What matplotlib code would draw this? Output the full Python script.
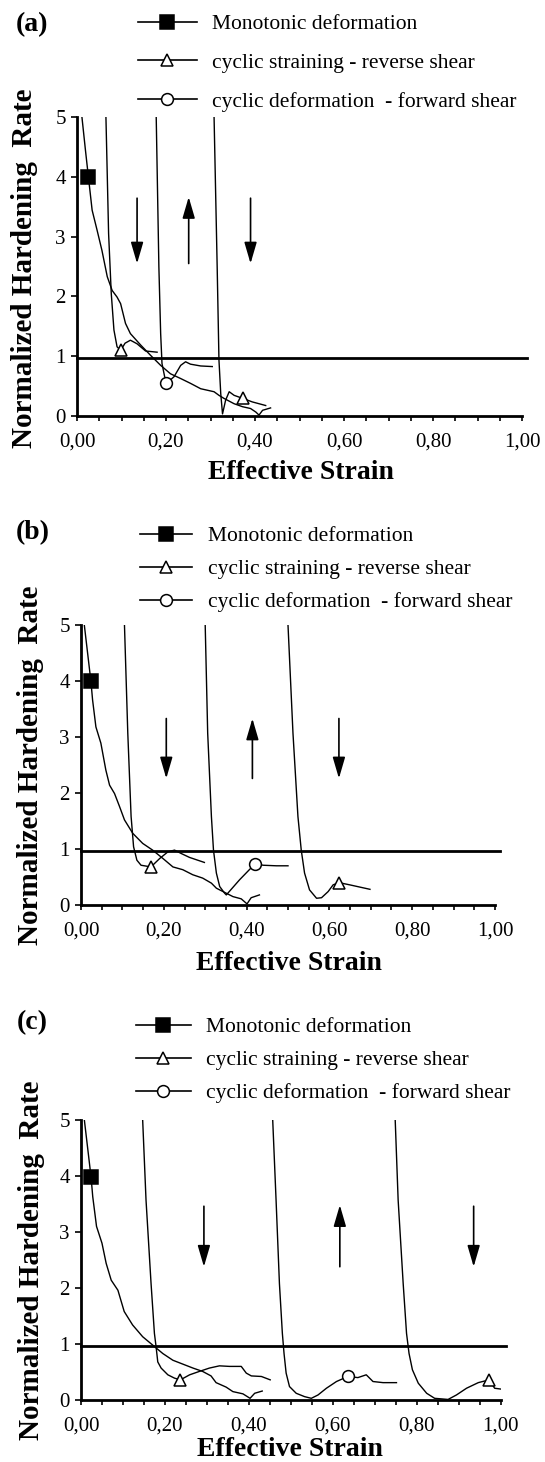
import matplotlib
matplotlib.use('Agg')
import matplotlib.pyplot as plt
from matplotlib.lines import Line2D
from matplotlib.ticker import MultipleLocator, FuncFormatter

plt.rcParams['font.family'] = ['Liberation Serif', 'DejaVu Serif']

# Data (effective strain, normalized hardening rate)

# --- panel (a) ---
a_mono_x = [0.011, 0.019, 0.026, 0.034, 0.045, 0.056, 0.068, 0.079, 0.090, 0.098, 0.109, 0.120,
            0.143, 0.165, 0.188, 0.210, 0.233, 0.255, 0.278, 0.308, 0.319, 0.330, 0.353, 0.372,
            0.390, 0.402, 0.409, 0.417, 0.435]
a_mono_y = [5.00, 4.44, 3.97, 3.44, 3.11, 2.77, 2.33, 2.10, 1.99, 1.88, 1.55, 1.38,
            1.19, 1.02, 0.85, 0.71, 0.63, 0.55, 0.46, 0.41, 0.35, 0.30, 0.21, 0.16,
            0.13, 0.07, 0.02, 0.10, 0.14]
a_rev1_x = [0.065, 0.071, 0.077, 0.083, 0.090, 0.098, 0.108, 0.120, 0.135, 0.154, 0.180]
a_rev1_y = [5.00, 3.05, 2.05, 1.44, 1.16, 1.10, 1.22, 1.27, 1.21, 1.09, 1.07]
a_fwd_x = [0.178, 0.184, 0.188, 0.191, 0.197, 0.201, 0.218, 0.233, 0.244, 0.255, 0.278, 0.304]
a_fwd_y = [5.00, 2.49, 1.38, 0.88, 0.66, 0.55, 0.66, 0.85, 0.91, 0.87, 0.84, 0.83]
a_rev2_x = [0.308, 0.315, 0.319, 0.323, 0.327, 0.334, 0.342, 0.353, 0.372, 0.394, 0.424]
a_rev2_y = [5.00, 2.49, 0.94, 0.38, 0.04, 0.27, 0.41, 0.35, 0.30, 0.24, 0.18]
a_marks_x = [0.025, 0.098, 0.201, 0.372]
a_marks_y = [4.00, 1.10, 0.55, 0.30]
a_arrow_x = [0.135, 0.251, 0.390]
a_arrow_from = [3.64, 2.55, 3.64]
a_arrow_to = [2.55, 3.66, 2.55]

# --- panel (b) ---
b_mono_x = [0.008, 0.024, 0.028, 0.036, 0.048, 0.060, 0.069, 0.081, 0.093, 0.105, 0.125, 0.149,
            0.173, 0.198, 0.222, 0.246, 0.270, 0.294, 0.315, 0.327, 0.351, 0.367, 0.387, 0.401,
            0.411, 0.431]
b_mono_y = [5.00, 3.99, 3.66, 3.18, 2.89, 2.41, 2.14, 1.99, 1.76, 1.52, 1.28, 1.10,
            0.98, 0.83, 0.68, 0.63, 0.54, 0.48, 0.39, 0.30, 0.21, 0.15, 0.11, 0.02,
            0.13, 0.18]
b_rev1_x = [0.105, 0.113, 0.121, 0.127, 0.135, 0.145, 0.169, 0.190, 0.210, 0.226, 0.242, 0.262, 0.298]
b_rev1_y = [5.00, 3.07, 1.58, 1.04, 0.80, 0.71, 0.68, 0.83, 0.95, 0.98, 0.92, 0.85, 0.76]
b_fwd_x = [0.300, 0.306, 0.315, 0.320, 0.327, 0.335, 0.347, 0.351, 0.383, 0.421, 0.440, 0.472, 0.500]
b_fwd_y = [5.00, 3.07, 1.58, 0.98, 0.57, 0.33, 0.21, 0.18, 0.45, 0.74, 0.71, 0.70, 0.70]
b_rev2_x = [0.500, 0.512, 0.524, 0.532, 0.540, 0.552, 0.569, 0.581, 0.597, 0.609, 0.623, 0.649, 0.698]
b_rev2_y = [5.00, 3.07, 1.58, 0.98, 0.57, 0.27, 0.12, 0.13, 0.24, 0.36, 0.40, 0.36, 0.28]
b_marks_x = [0.024, 0.169, 0.421, 0.623]
b_marks_y = [4.00, 0.68, 0.74, 0.40]
b_arrow_x = [0.206, 0.414, 0.623]
b_arrow_from = [3.33, 2.26, 3.33]
b_arrow_to = [2.26, 3.33, 2.26]

# --- panel (c) ---
c_mono_x = [0.008, 0.024, 0.028, 0.037, 0.050, 0.060, 0.072, 0.088, 0.103, 0.123, 0.147, 0.171,
            0.195, 0.219, 0.243, 0.267, 0.290, 0.310, 0.322, 0.346, 0.362, 0.386, 0.403, 0.414, 0.432]
c_mono_y = [5.00, 3.98, 3.63, 3.10, 2.80, 2.44, 2.14, 1.96, 1.58, 1.34, 1.13, 0.98,
            0.83, 0.71, 0.64, 0.57, 0.51, 0.43, 0.31, 0.23, 0.15, 0.11, 0.03, 0.12, 0.16]
c_rev1_x = [0.147, 0.155, 0.167, 0.175, 0.179, 0.183, 0.191, 0.207, 0.223, 0.237, 0.259, 0.282,
            0.306, 0.330, 0.354, 0.382, 0.394, 0.406, 0.430, 0.451]
c_rev1_y = [5.00, 3.57, 2.08, 1.19, 0.95, 0.68, 0.57, 0.45, 0.39, 0.36, 0.45, 0.51,
            0.57, 0.61, 0.60, 0.60, 0.48, 0.43, 0.42, 0.36]
c_fwd_x = [0.457, 0.465, 0.473, 0.480, 0.484, 0.489, 0.497, 0.513, 0.533, 0.549, 0.565, 0.585,
           0.609, 0.636, 0.660, 0.680, 0.696, 0.720, 0.752]
c_fwd_y = [5.00, 3.57, 2.08, 1.19, 0.83, 0.48, 0.24, 0.12, 0.06, 0.03, 0.09, 0.21,
           0.33, 0.42, 0.40, 0.45, 0.33, 0.31, 0.31]
c_rev2_x = [0.749, 0.756, 0.768, 0.776, 0.782, 0.790, 0.804, 0.824, 0.843, 0.875, 0.895, 0.919,
            0.947, 0.973, 0.986, 1.006]
c_rev2_y = [5.00, 3.57, 2.08, 1.19, 0.83, 0.54, 0.30, 0.12, 0.03, 0.01, 0.09, 0.21,
            0.31, 0.36, 0.21, 0.19]
c_marks_x = [0.024, 0.237, 0.636, 0.973]
c_marks_y = [3.98, 0.36, 0.42, 0.36]
c_arrow_x = [0.293, 0.617, 0.936]
c_arrow_from = [3.46, 2.38, 3.46]
c_arrow_to = [2.38, 3.48, 2.38]

ref_level = 0.97
panel_tags = ['(a)', '(b)', '(c)']
legend_labels = ['Monotonic deformation',
                 'cyclic straining - reverse shear',
                 'cyclic deformation  - forward shear']

panels = [
    dict(curves=[(a_mono_x, a_mono_y), (a_rev1_x, a_rev1_y), (a_fwd_x, a_fwd_y), (a_rev2_x, a_rev2_y)],
         marks=(a_marks_x, a_marks_y), arrows=(a_arrow_x, a_arrow_from, a_arrow_to),
         rect=(77, 116.7, 522, 416.3), tag=(32, 25), ylab=(25, 268), xlab=(301, 472),
         leg=(138, 14, 2.74, 0.72, 0.87)),
    dict(curves=[(b_mono_x, b_mono_y), (b_rev1_x, b_rev1_y), (b_fwd_x, b_fwd_y), (b_rev2_x, b_rev2_y)],
         marks=(b_marks_x, b_marks_y), arrows=(b_arrow_x, b_arrow_from, b_arrow_to),
         rect=(81, 625, 495, 905), tag=(33, 533), ylab=(31, 765), xlab=(289, 963),
         leg=(140, 526, 2.4, 0.77, 0.6)),
    dict(curves=[(c_mono_x, c_mono_y), (c_rev1_x, c_rev1_y), (c_fwd_x, c_fwd_y), (c_rev2_x, c_rev2_y)],
         marks=(c_marks_x, c_marks_y), arrows=(c_arrow_x, c_arrow_from, c_arrow_to),
         rect=(81, 1120, 500.5, 1400), tag=(32, 1023), ylab=(32, 1260), xlab=(290, 1450),
         leg=(136, 1017, 2.55, 0.72, 0.6)),
]

W, H = 545, 1462
fig = plt.figure(figsize=(W / 100, H / 100), dpi=100)


def fx(px):
    return px / W


def fy(py):
    return 1 - py / H


marker_styles = [dict(marker='s', markersize=10.5, markerfacecolor='black'),
                 dict(marker='^', markersize=8.5, markerfacecolor='white'),
                 dict(marker='o', markersize=8.5, markerfacecolor='white'),
                 dict(marker='^', markersize=8.5, markerfacecolor='white')]

comma_fmt = FuncFormatter(lambda v, pos: f'{v:.2f}'.replace('.', ','))

for i, p in enumerate(panels):
    l, t, r, b = p['rect']
    ax = fig.add_axes([fx(l), fy(b), fx(r) - fx(l), fy(t) - fy(b)])

    for cx, cy in p['curves']:
        ax.plot(cx, cy, color='black', lw=1.0)
    mx, my = p['marks']
    for k in range(len(mx)):
        ax.plot(mx[k], my[k], linestyle='none', color='black', markeredgecolor='black',
                markeredgewidth=1.1, **marker_styles[k])

    ax.axhline(ref_level, xmin=0, xmax=1.012, color='black', lw=2.0, clip_on=False)

    axx, afrom, ato = p['arrows']
    for k in range(len(axx)):
        ax.annotate('', xy=(axx[k], ato[k]), xytext=(axx[k], afrom[k]),
                    arrowprops=dict(arrowstyle='-|>,head_length=1.3,head_width=0.38',
                                    color='black', lw=1.2, shrinkA=0, shrinkB=0))

    ax.set_xlim(0, 1)
    ax.set_ylim(0, 5)
    for s in ['top', 'right']:
        ax.spines[s].set_visible(False)
    for s in ['left', 'bottom']:
        ax.spines[s].set_linewidth(2.0)
    ax.xaxis.set_major_locator(MultipleLocator(0.2))
    ax.xaxis.set_minor_locator(MultipleLocator(0.05))
    ax.xaxis.set_major_formatter(comma_fmt)
    ax.yaxis.set_major_locator(MultipleLocator(1))
    ax.tick_params(axis='x', which='both', direction='out', length=3.5, width=1.2,
                   labelsize=15, pad=8.5)
    ax.tick_params(axis='y', which='both', direction='out', length=4, width=1.2,
                   labelsize=15, pad=4)

    fig.text(fx(p['tag'][0]), fy(p['tag'][1]), panel_tags[i], fontsize=20, fontweight='bold',
             ha='center', va='center')
    fig.text(fx(p['ylab'][0]), fy(p['ylab'][1]), 'Normalized Hardening  Rate', fontsize=21,
             fontweight='bold', rotation=90, ha='center', va='center')
    fig.text(fx(p['xlab'][0]), fy(p['xlab'][1]), 'Effective Strain', fontsize=20,
             fontweight='bold', ha='center', va='center')

    hx, hy, hlen, hpad, lsp = p['leg']
    handles = [Line2D([], [], color='black', lw=1.2, markeredgecolor='black',
                      markeredgewidth=1.1, **marker_styles[k]) for k in range(3)]
    ax.legend(handles, legend_labels, loc='upper left', bbox_to_anchor=(fx(hx), fy(hy)),
              bbox_transform=fig.transFigure, frameon=False, fontsize=15.5, numpoints=1,
              borderpad=0, borderaxespad=0, handlelength=hlen, handletextpad=hpad,
              labelspacing=lsp)

fig.savefig('out.png', dpi=100)
